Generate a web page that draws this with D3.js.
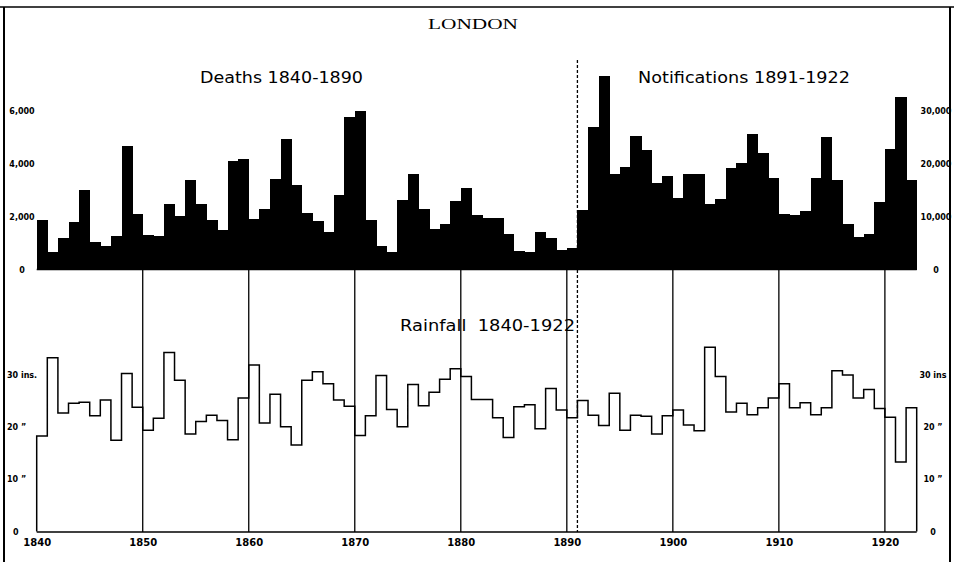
<!DOCTYPE html>
<html>
<head>
<meta charset="utf-8">
<script src="https://cdn.jsdelivr.net/npm/d3@7"></script>
<style>
  body { margin: 0; background: #fff; }
  svg { display: block; }
  .tick-lbl { font-family: "DejaVu Sans", sans-serif; font-weight: bold; font-size: 8px; }
  .year-lbl { font-family: "DejaVu Sans", sans-serif; font-weight: bold; font-size: 10px; }
  .panel-title { font-family: "DejaVu Sans", sans-serif; font-size: 15px; }
</style>
</head>
<body>
<svg id="chartId" width="954" height="562"></svg>
<script>
// deaths 1840-1890
const deaths = [
  1855, 655, 1186, 1792, 3016, 1035, 896, 1262, 4668, 2082,
  1312, 1249, 2473, 2031, 3394, 2486, 1880, 1476, 4088, 4176,
  1893, 2271, 3407, 4933, 3192, 2120, 1842, 1413, 2813, 5766,
  5968, 1867, 871, 656, 2612, 3621, 2271, 1539, 1729, 2599,
  3066, 2069, 1956, 1956, 1350, 681, 643, 1426, 1186, 744,
  820
];
// notifications 1891-1922
const notifications = [
  11170, 26820, 36590, 18100, 19360, 25230, 22520, 16400, 17670, 13440,
  18100, 18100, 12300, 13250, 19240, 20180, 25490, 21890, 17230, 10410,
  10220, 11040, 17290, 25040, 16970, 8520, 6120, 6630, 12810, 22650,
  32490, 16850
];
// rainfall 1840-1922, inches
const rainfall = [
  18.3, 33.3, 22.7, 24.6, 24.8, 22.2, 25.2, 17.5, 30.3, 23.8,
  19.4, 21.7, 34.3, 29.0, 18.7, 21.1, 22.3, 21.3, 17.6, 25.6,
  31.9, 20.8, 26.3, 20.1, 16.6, 29.0, 30.6, 28.3, 25.2, 24.0,
  18.4, 22.2, 29.9, 23.4, 20.1, 28.2, 24.1, 26.7, 29.2, 31.2,
  29.7, 25.3, 25.3, 21.8, 18.0, 23.9, 24.3, 19.7, 27.4, 23.3,
  21.8, 25.1, 22.3, 20.3, 26.5, 19.4, 22.3, 22.1, 18.7, 22.2,
  23.3, 20.4, 19.3, 35.3, 29.7, 22.9, 24.6, 22.4, 23.7, 25.6,
  28.3, 23.7, 24.7, 22.4, 23.7, 30.8, 30.0, 25.6, 27.2, 23.6,
  21.9, 13.3, 23.7
];

const deathTicks = [0, 2000, 4000, 6000];
const notifTicks = [0, 10000, 20000, 30000];
const rainTicks = [0, 10, 20, 30];
const rainTickLeft = ["0", "10 \u201d", "20 \u201d", "30 ins."];
const rainTickRight = ["0", "10 \u201d", "20 \u201d", "30 ins"];
const decadeTicks = [1840, 1850, 1860, 1870, 1880, 1890, 1900, 1910, 1920];

const firstYear = 1840;
const splitYear = 1891;

const svg = d3.select("#chartId");

const x = d3.scaleLinear().domain([1840, 1923]).range([36.7, 916.7]);
const yDeaths = d3.scaleLinear().domain([0, 6000]).range([269.5, 110.5]);
const yNotif = d3.scaleLinear().domain([0, 30000]).range([269.5, 110.5]);
const yRain = d3.scaleLinear().domain([0, 30]).range([531.5, 375]);

const upperBase = yDeaths(0);
const lowerBase = 532;

const bars = deaths
  .map((v, i) => ({ year: firstYear + i, y: yDeaths(v) }))
  .concat(notifications.map((v, i) => ({ year: splitYear + i, y: yNotif(v) })));

// frame
svg.append("line").attr("x1", 0).attr("x2", 954).attr("y1", 7).attr("y2", 7)
  .attr("stroke", "#000").attr("stroke-width", 1.5);
svg.append("line").attr("x1", 4).attr("x2", 4).attr("y1", 7).attr("y2", 562)
  .attr("stroke", "#000").attr("stroke-width", 2);
svg.append("line").attr("x1", 950).attr("x2", 950).attr("y1", 7).attr("y2", 562)
  .attr("stroke", "#000").attr("stroke-width", 2);

svg.append("text")
  .attr("x", 428).attr("y", 29)
  .attr("font-family", "Liberation Serif, serif")
  .attr("font-size", 14)
  .attr("textLength", 90)
  .attr("lengthAdjust", "spacingAndGlyphs")
  .text("LONDON");

// upper panel bars
svg.append("g")
  .attr("shape-rendering", "crispEdges")
  .selectAll("rect")
  .data(bars)
  .enter()
  .append("rect")
  .attr("x", d => x(d.year))
  .attr("width", d => x(d.year + 1) - x(d.year) + 0.6)
  .attr("y", d => d.y)
  .attr("height", d => upperBase - d.y)
  .attr("fill", "#000");

svg.append("line")
  .attr("x1", x(1840)).attr("x2", x(1923))
  .attr("y1", upperBase).attr("y2", upperBase)
  .attr("stroke", "#000").attr("stroke-width", 1.5);

// decade grid lines in rainfall panel
svg.append("g")
  .selectAll("line")
  .data(decadeTicks.slice(1))
  .enter()
  .append("line")
  .attr("x1", d => x(d)).attr("x2", d => x(d))
  .attr("y1", upperBase).attr("y2", lowerBase)
  .attr("stroke", "#000").attr("stroke-width", 1.3);

// dashed split line
svg.append("line")
  .attr("x1", x(splitYear)).attr("x2", x(splitYear))
  .attr("y1", 60).attr("y2", lowerBase)
  .attr("stroke", "#000").attr("stroke-width", 1.3)
  .attr("stroke-dasharray", "3,2");

// rainfall step line
const rainPts = [[firstYear, 0]]
  .concat(rainfall.map((v, i) => [firstYear + i, v]))
  .concat([[firstYear + rainfall.length, rainfall[rainfall.length - 1]], [firstYear + rainfall.length, 0]]);

const rainLine = d3.line()
  .x(d => x(d[0]))
  .y(d => yRain(d[1]))
  .curve(d3.curveStepAfter);

svg.append("path")
  .datum(rainPts)
  .attr("d", rainLine)
  .attr("fill", "none")
  .attr("stroke", "#000")
  .attr("stroke-width", 1.5);

svg.append("line")
  .attr("x1", x(1840)).attr("x2", x(1923))
  .attr("y1", lowerBase).attr("y2", lowerBase)
  .attr("stroke", "#000").attr("stroke-width", 1.5);

// panel titles
const titles = [
  { text: "Deaths 1840-1890", x: 200, y: 83, w: 163 },
  { text: "Notifications 1891-1922", x: 638, y: 83, w: 212 },
  { text: "Rainfall  1840-1922", x: 400, y: 331, w: 175 }
];
svg.selectAll(".panel-title")
  .data(titles)
  .enter()
  .append("text")
  .attr("class", "panel-title")
  .attr("x", d => d.x)
  .attr("y", d => d.y)
  .attr("textLength", d => d.w)
  .attr("lengthAdjust", "spacingAndGlyphs")
  .style("white-space", "pre")
  .text(d => d.text);

// left / right value axes
const deathAxis = d3.axisRight(yDeaths).tickValues(deathTicks).tickSize(0).tickPadding(0)
  .tickFormat(d3.format(","));
const dAxisG = svg.append("g").attr("transform", "translate(22,0)").call(deathAxis);
dAxisG.select(".domain").remove();
dAxisG.selectAll(".tick text").attr("class", "tick-lbl").attr("text-anchor", "middle").attr("font-family", null).attr("font-size", null);

const notifAxis = d3.axisRight(yNotif).tickValues(notifTicks).tickSize(0).tickPadding(0)
  .tickFormat(d3.format(","));
const nAxisG = svg.append("g").attr("transform", "translate(936,0)").call(notifAxis);
nAxisG.select(".domain").remove();
nAxisG.selectAll(".tick text").attr("class", "tick-lbl").attr("text-anchor", "middle").attr("font-family", null).attr("font-size", null);

svg.append("g")
  .selectAll("text")
  .data(rainTicks)
  .enter()
  .append("text")
  .attr("class", "tick-lbl")
  .attr("x", d => d === 0 ? 13 : 7)
  .attr("y", d => yRain(d) + 3)
  .text((d, i) => rainTickLeft[i]);

svg.append("g")
  .selectAll("text")
  .data(rainTicks)
  .enter()
  .append("text")
  .attr("class", "tick-lbl")
  .attr("x", 933)
  .attr("y", d => yRain(d) + 3)
  .attr("text-anchor", "middle")
  .text((d, i) => rainTickRight[i]);

// year axis
const yearAxis = d3.axisBottom(x).tickValues(decadeTicks).tickSize(0).tickPadding(7)
  .tickFormat(d3.format("d"));
const yAxisG = svg.append("g").attr("transform", `translate(0,${lowerBase})`).call(yearAxis);
yAxisG.select(".domain").remove();
yAxisG.selectAll(".tick text").attr("class", "year-lbl").attr("font-family", null).attr("font-size", null);
</script>
</body>
</html>
